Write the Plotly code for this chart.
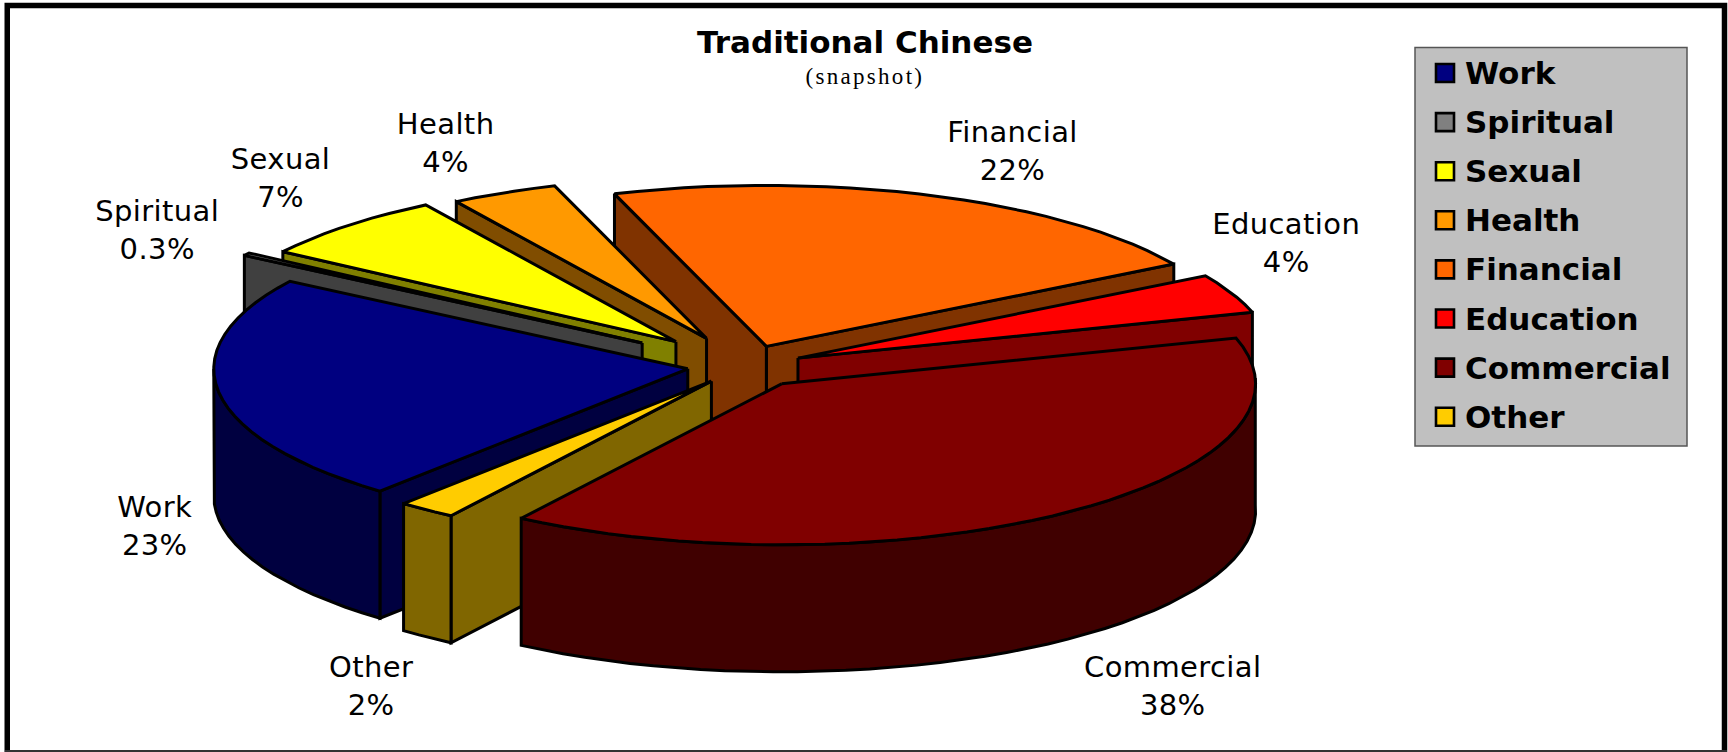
import numpy as np
import plotly.graph_objects as go

# Slice data, clockwise from the front-left of the pie
categories = ["Work", "Spiritual", "Sexual", "Health", "Financial", "Education", "Commercial", "Other"]
values = [23, 0.3, 7, 4, 22, 4, 38, 2]
pull = [0.122, 0.26, 0.21, 0.19, 0.13, 0.122, 0.135, 0.118]
top_colors = ["#000080", "#808080", "#FFFF00", "#FF9900", "#FF6600", "#FF0000", "#800000", "#FFCC00"]
side_colors = ["#000040", "#404040", "#808000", "#804D00", "#803300", "#800000", "#400000", "#806600"]

# Back-to-front painting order
paint_order = ["Financial", "Health", "Sexual", "Spiritual", "Education", "Work", "Other", "Commercial"]

# Label anchor points in plot units (centre of the two-line label)
label_centres = {
    "Work": (155, 526), "Spiritual": (157, 230), "Sexual": (280, 178), "Health": (445, 143),
    "Financial": (1012, 151), "Education": (1286, 243), "Commercial": (1172, 686), "Other": (371, 686),
}

# Projected pie geometry
CX, CY = 745, 366
RX, RY = 474, 161
DEPTH = 127
START_ANGLE = 220.5
W, H = 1728, 752

# The oblique view compresses the far side of the pie: angle -> angular correction
view_angles = [300, 329, 343.5, 422, 436.5, 470]
view_shift = [0, -1.1, -2.3, -3.3, -3.5, 0]

# Legend box and rows
LEG_LEFT, LEG_RIGHT, LEG_TOP, LEG_BOTTOM = 1415, 1687, 47.5, 446
LEG_FIRST_ROW, LEG_ROW_STEP = 73, 49.1
LEG_SWATCH_X, LEG_TEXT_X = 1445, 1463


def shown(theta_deg):
    return theta_deg + np.interp(theta_deg, view_angles, view_shift, left=0, right=0)


def project(theta_deg, radius=1.0):
    t = np.radians(shown(theta_deg))
    return radius * RX * np.sin(t), -radius * RY * np.cos(t)


def arc(t0, t1):
    n = max(2, int(abs(t1 - t0) / 3) + 2)
    return np.linspace(t0, t1, n)


fig = go.Figure()


def polygon(xs, ys, colour):
    fig.add_trace(go.Scatter(
        x=list(xs) + [xs[0]], y=list(ys) + [ys[0]], mode="lines", fill="toself",
        fillcolor=colour, line=dict(color="black", width=3),
        showlegend=False, hoverinfo="skip",
    ))


# Angular extent of every slice, derived from the values
total = sum(values)
spans = {}
angle = START_ANGLE
for name, v in zip(categories, values):
    spans[name] = (angle, angle + v / total * 360)
    angle += v / total * 360

for name in paint_order:
    i = categories.index(name)
    t1, t2 = spans[name]
    mx, my = project((t1 + t2) / 2, pull[i])
    ax, ay = CX + mx, CY + my
    side, top = side_colors[i], top_colors[i]

    def edge_wall(t):
        ex, ey = project(t)
        polygon([ax, ax + ex, ax + ex, ax], [ay, ay + ey, ay + ey + DEPTH, ay + DEPTH], side)

    # radial walls facing the viewer
    if np.sin(np.radians(shown(t2))) > 0:
        edge_wall(t2)
    if np.sin(np.radians(shown(t1))) < 0:
        edge_wall(t1)

    # outer rim on the near half of the ellipse
    for lo, hi in ((90, 270), (450, 630)):
        a, b = max(t1, lo), min(t2, hi)
        if a < b:
            ex, ey = project(arc(a, b))
            xs = np.concatenate([ax + ex, (ax + ex)[::-1]])
            ys = np.concatenate([ay + ey, (ay + ey + DEPTH)[::-1]])
            polygon(xs, ys, side)

    # top face
    ex, ey = project(arc(t1, t2))
    polygon(np.concatenate([[ax], ax + ex]), np.concatenate([[ay], ay + ey]), top)

# Slice labels
for name, v in zip(categories, values):
    x, y = label_centres[name]
    fig.add_annotation(x=x, y=y, text=f"{name}<br>{v:g}%", showarrow=False, align="center",
                       font=dict(family="DejaVu Sans", size=29, color="black"))

# Title block
fig.add_annotation(x=865, y=42, text="<b>Traditional Chinese</b>", showarrow=False,
                   font=dict(family="DejaVu Sans", size=31, color="black"))
fig.add_annotation(x=865, y=76, text="(snapshot)", showarrow=False,
                   font=dict(family="Liberation Serif", size=23, color="black"))

# Key: grey box, square swatches, bold names
fig.add_shape(type="rect", x0=LEG_LEFT, x1=LEG_RIGHT, y0=LEG_TOP, y1=LEG_BOTTOM,
              fillcolor="#C0C0C0", line=dict(color="#555555", width=1.5), layer="below")
rows = [LEG_FIRST_ROW + k * LEG_ROW_STEP for k in range(len(categories))]
fig.add_trace(go.Scatter(
    x=[LEG_SWATCH_X] * len(categories), y=rows, mode="markers", showlegend=False, hoverinfo="skip",
    marker=dict(symbol="square", size=18, color=top_colors, line=dict(color="black", width=2.6)),
))
for name, y in zip(categories, rows):
    fig.add_annotation(x=LEG_TEXT_X, y=y, text=f"<b>{name}</b>", showarrow=False, xanchor="left",
                       font=dict(family="DejaVu Sans", size=31, color="black"))

# Outer frame
fig.add_shape(type="path", path="M 7.25 752 L 7.25 5.5 L 1724.5 5.5 L 1724.5 752",
              line=dict(color="black", width=5.5))
fig.add_shape(type="line", x0=5, x1=1727, y0=751, y1=751, line=dict(color="#333333", width=2))

fig.update_layout(
    width=W, height=H, margin=dict(l=0, r=0, t=0, b=0),
    paper_bgcolor="white", plot_bgcolor="white", showlegend=False,
    xaxis=dict(range=[0, W], visible=False, fixedrange=True),
    yaxis=dict(range=[H, 0], visible=False, fixedrange=True),
)

# Tracking for the subtitle and slice labels
tracking = """
document.querySelectorAll('.annotation-text').forEach(function (t) {
  var s = t.textContent;
  if (s === '(snapshot)') { t.style.letterSpacing = '2.3px'; }
  else if (s.indexOf('%') >= 0) { t.style.letterSpacing = '0.4px'; }
});
"""
fig.write_html("out.html", post_script=tracking)
